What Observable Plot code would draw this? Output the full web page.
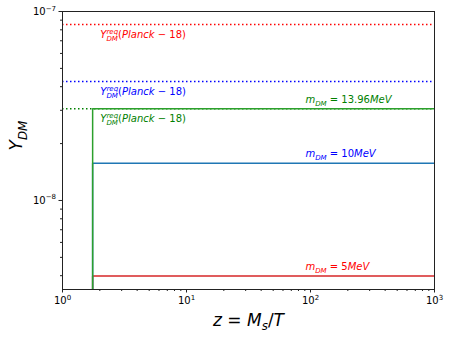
<!DOCTYPE html>
<html>
<head>
<meta charset="utf-8">
<script src="https://cdn.jsdelivr.net/npm/d3@7"></script>
<script src="https://cdn.jsdelivr.net/npm/@observablehq/plot@0.6"></script>
<style>
  html, body { margin: 0; padding: 0; background: #fff; }
  svg { display: block; }
</style>
</head>
<body>
<div id="chart"></div>
<script>
// ---- data ----
const xDomain = [1, 1000];
const yDomain = [3.38e-9, 1e-7];
const xMajor = [1, 10, 100, 1000];
const yMajor = [1e-8, 1e-7];

// Planck-18 required yields (dotted)
const planckLabels = ["Y_{DM}^{req}(Planck − 18)", "Y_{DM}^{req}(Planck − 18)", "Y_{DM}^{req}(Planck − 18)"];
const planckY = [8.53e-8, 4.26e-8, 3.06e-8];
const planckColors = ["#ff0000", "#0000ff", "#008000"];

// model curves (solid steps)
const massLabels = ["m_{DM} = 5MeV", "m_{DM} = 10MeV", "m_{DM} = 13.96MeV"];
const massY = [3.98e-9, 1.574e-8, 3.06e-8];
const lineColors = ["#d62728", "#1f77b4", "#2ca02c"];
const labelColors = ["#ff0000", "#0000ff", "#008000"];
const zJump = 1.75;
const zEnd = 1000;
const planckLabelX = 2.02;
const massLabelX = 91;

// ---- build tables ----
const planck = planckY.map((y, i) => ({y, label: planckLabels[i], color: planckColors[i]}));
const steps = [];
massY.forEach((y, i) => {
  steps.push({s: i, x: zJump, y: yDomain[0], color: lineColors[i]});
  steps.push({s: i, x: zJump, y, color: lineColors[i]});
  steps.push({s: i, x: zEnd, y, color: lineColors[i]});
});
const masses = massY.map((y, i) => ({y, label: massLabels[i], color: labelColors[i]}));

const minorX = [];
for (let d = 1; d < 1000; d *= 10) for (let k = 2; k <= 9; k++) minorX.push(k * d);
const minorY = [];
for (let d = 1e-9; d < 1e-7; d *= 10) for (let k = 2; k <= 9; k++) {
  const v = k * d; if (v >= yDomain[0] && v <= yDomain[1]) minorY.push(v);
}
const pow10 = v => "10^{" + String(Math.round(Math.log10(v))).replace("-", "−") + "}";

const chart = Plot.plot({
  width: 451, height: 338,
  marginLeft: 62, marginRight: 17, marginTop: 11, marginBottom: 49,
  x: {type: "log", domain: xDomain, label: null},
  y: {type: "log", domain: yDomain, label: null},
  color: {type: "identity"},
  style: {fontFamily: "DejaVu Sans", fontSize: "10px", background: "white", color: "black"},
  marks: [
    Plot.axisX({ticks: minorX, tickSize: 2, tickFormat: () => "", stroke: "#222", label: null}),
    Plot.axisY({ticks: minorY, tickSize: 2, tickFormat: () => "", stroke: "#222", label: null}),
    Plot.axisX({ticks: xMajor, tickSize: 3.5, tickPadding: 4, tickFormat: pow10, fontSize: 10, stroke: "#222", label: null, className: "math"}),
    Plot.axisY({ticks: yMajor, tickSize: 3.5, tickPadding: 3, tickFormat: pow10, fontSize: 10, stroke: "#222", label: null, className: "math"}),
    Plot.ruleY(planck, {y: "y", stroke: "color", strokeWidth: 1.5, strokeDasharray: "1.5,2.5"}),
    Plot.line(steps, {x: "x", y: "y", z: "s", stroke: "color", strokeWidth: 1.5, clip: true}),
    Plot.text(planck, {x: () => planckLabelX, y: "y", text: "label", fill: "color", dy: 10, textAnchor: "start", fontSize: 10, className: "math"}),
    Plot.text(masses, {x: () => massLabelX, y: "y", text: "label", fill: "color", dy: -9, textAnchor: "start", fontSize: 10, className: "math"}),
    Plot.text(["Y_{DM}"], {frameAnchor: "left", dx: -46, rotate: -90, fontSize: 17, fill: "black", className: "math"}),
    Plot.text(["z = M_{s}/T"], {frameAnchor: "bottom", dy: 36, fontSize: 17, fill: "black", className: "math"}),
    Plot.frame({stroke: "#222", strokeWidth: 1})
  ]
});
document.getElementById("chart").appendChild(chart);

// ---- mathtext-like rendering of sub/superscripts ----
function renderMath(el, size) {
  const src = el.textContent;
  if (!/[_^]/.test(src) && !/[A-Za-z]/.test(src)) return;
  while (el.firstChild) el.removeChild(el.firstChild);
  const ns = "http://www.w3.org/2000/svg";
  const re = /_\{([^}]*)\}|\^\{([^}]*)\}|([A-Za-z]+)|([^A-Za-z_^]+)/g;
  let cur = 0, lastSub = null, pendingDx = 0, m;
  function add(txt, italic, fs, off, dx) {
    const t = document.createElementNS(ns, "tspan");
    t.textContent = txt;
    t.setAttribute("font-style", italic ? "italic" : "normal");
    t.setAttribute("font-size", fs);
    const dy = off - cur;
    if (dy) t.setAttribute("dy", dy);
    cur = off;
    if (dx) t.setAttribute("dx", dx);
    el.appendChild(t);
    return t;
  }
  while ((m = re.exec(src))) {
    if (m[1] != null) {
      lastSub = add(m[1], true, size * 0.7, size * 0.28, pendingDx);
      pendingDx = 0;
    } else if (m[2] != null) {
      const w = lastSub ? lastSub.getComputedTextLength() : 0;
      const t = add(m[2], /[A-Za-z]/.test(m[2]), size * 0.7, -size * 0.42, -w);
      const w2 = t.getComputedTextLength();
      pendingDx = w > w2 ? w - w2 : 0;
      lastSub = null;
    } else {
      add(m[3] != null ? m[3] : m[4], m[3] != null, size, 0, pendingDx);
      pendingDx = 0;
      lastSub = null;
    }
  }
}
d3.select(chart).selectAll("g.math text").each(function() {
  const size = parseFloat(getComputedStyle(this).fontSize) || 10;
  renderMath(this, size);
});
</script>
</body>
</html>
